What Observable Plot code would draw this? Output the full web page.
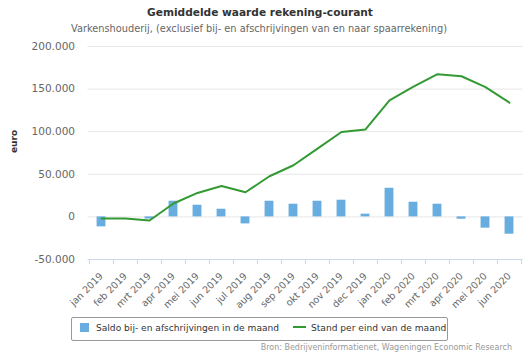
<!DOCTYPE html>
<html>
<head>
<meta charset="utf-8">
<script src="https://cdn.jsdelivr.net/npm/d3@7"></script>
<script src="https://cdn.jsdelivr.net/npm/@observablehq/plot@0.6"></script>
<style>
  html, body { margin: 0; padding: 0; background: #fff; }
  body { width: 531px; height: 354px; position: relative; overflow: hidden; font-family: "DejaVu Sans", Verdana, sans-serif; }
  #title { position: absolute; top: 6px; left: 0; width: 520px; text-align: center; font-size: 10.6px; font-weight: bold; color: #333; }
  #subtitle { position: absolute; top: 23px; left: 0; width: 518px; text-align: center; font-size: 9.8px; color: #666; }
  #chart { position: absolute; top: 36px; left: 0; }
  #legend { position: absolute; left: 71px; top: 317px; width: 377px; height: 24px; border: 1px solid #999; border-radius: 2px; box-sizing: border-box; font-size: 9.1px; color: #333; }
  #legend .item { position: absolute; top: 5px; white-space: nowrap; }
  #legend .sw-bar { display: inline-block; width: 9px; height: 9px; background: #67ade0; vertical-align: -1px; margin-right: 7px; }
  #legend .sw-line { display: inline-block; width: 13px; height: 2px; background: #339a33; vertical-align: 3px; margin-right: 5px; }
  #source { position: absolute; right: 19px; top: 343px; font-size: 8px; color: #999; white-space: nowrap; }
</style>
</head>
<body>
<div id="title">Gemiddelde waarde rekening-courant</div>
<div id="subtitle">Varkenshouderij, (exclusief bij- en afschrijvingen van en naar spaarrekening)</div>
<div id="chart"></div>
<div id="legend">
  <span class="item" style="left:8px"><span class="sw-bar"></span>Saldo bij- en afschrijvingen in de maand</span>
  <span class="item" style="left:221px"><span class="sw-line"></span>Stand per eind van de maand</span>
</div>
<div id="source">Bron: Bedrijveninformatienet, Wageningen Economic Research</div>
<script>
const months = ["jan 2019","feb 2019","mrt 2019","apr 2019","mei 2019","jun 2019","jul 2019","aug 2019","sep 2019","okt 2019","nov 2019","dec 2019","jan 2020","feb 2020","mrt 2020","apr 2020","mei 2020","jun 2020"];
const saldo = [-11700, 0, -2500, 18400, 13700, 9000, -8200, 18400, 14900, 18400, 19600, 3200, 33600, 17200, 14900, -2700, -13200, -20300];
const stand = [-1900, -2000, -4200, 15700, 28100, 36300, 28900, 47700, 60600, 80100, 99600, 102700, 136700, 153000, 167500, 165100, 152300, 134000];
const yTicks = [-50000, 0, 50000, 100000, 150000, 200000];

const rows = months.map((m, i) => ({month: m, saldo: saldo[i], stand: stand[i]}));
const nl = d3.formatLocale({decimal: ",", thousands: ".", grouping: [3], currency: ["€", ""], minus: "-"});
const fmt = nl.format(",d");

const W = 531, ML = 87.5, MR = 8.5;
const step = (W - ML - MR) / months.length;
const barW = 9;

const chart = Plot.plot({
  width: W,
  height: 270,
  marginLeft: ML,
  marginRight: MR,
  marginTop: 10,
  marginBottom: 47,
  style: {fontFamily: "DejaVu Sans, Verdana, sans-serif", fontSize: "9.6px", background: "#fff", overflow: "visible"},
  x: {type: "band", domain: months, padding: 0},
  y: {domain: [-50000, 200000]},
  marks: [
    Plot.gridY(yTicks.filter(d => d > -50000), {stroke: "#e6e6e6", strokeOpacity: 1}),
    Plot.ruleY([-50000], {stroke: "#ccd6eb"}),
    Plot.barY(rows, {x: "month", y: "saldo", fill: "#67ade0", insetLeft: (step - barW) / 2, insetRight: (step - barW) / 2}),
    Plot.line(rows, {x: "month", y: "stand", stroke: "#339a33", strokeWidth: 2}),
    Plot.axisY({ticks: yTicks, tickFormat: fmt, tickSize: 0, tickPadding: 13, fill: "#666", label: null, fontSize: "10.5px"}),
    Plot.axisX({ticks: months, tickSize: 5, text: null, dx: -step / 2, stroke: "#ccd6eb", label: null}),
    Plot.axisX({ticks: [months[months.length - 1]], tickSize: 5, text: null, dx: step / 2, stroke: "#ccd6eb", label: null}),
    Plot.axisX({ticks: months, tickSize: 0, tickPadding: 15, tickRotate: -45, fill: "#666", label: null}),
    Plot.text(["euro"], {frameAnchor: "left", rotate: -90, dx: -74, fontWeight: "bold", fill: "#333", fontSize: 9})
  ]
});
document.getElementById("chart").appendChild(chart);
</script>
</body>
</html>
